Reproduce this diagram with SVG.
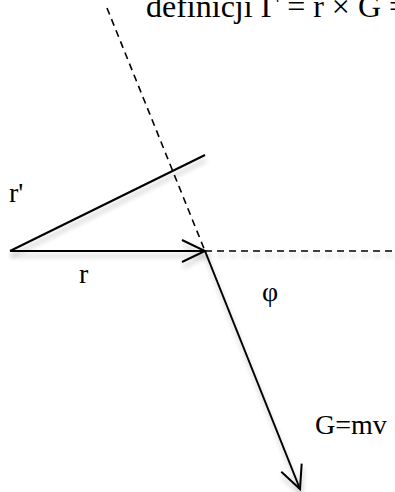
<svg xmlns="http://www.w3.org/2000/svg" width="395" height="492" viewBox="0 0 395 492">
<defs>
<filter id="sh" filterUnits="userSpaceOnUse" x="0" y="0" width="395" height="492">
<feGaussianBlur in="SourceAlpha" stdDeviation="2.5"/>
<feOffset dx="1" dy="5" result="b"/>
<feComponentTransfer><feFuncA type="linear" slope="0.25"/></feComponentTransfer>
<feMerge><feMergeNode/><feMergeNode in="SourceGraphic"/></feMerge>
</filter>
<marker id="ah" markerWidth="30" markerHeight="30" refX="24" refY="12" orient="auto" markerUnits="userSpaceOnUse" viewBox="0 0 30 24">
<path d="M1,1 L24,12 L1,23" fill="none" stroke="#000" stroke-width="2"/>
</marker>
</defs>
<style>
.l{stroke:#000;stroke-width:2;fill:none}
.d{stroke:#000;stroke-width:1.6;fill:none;stroke-dasharray:7,5}
text{font-family:"Liberation Serif","DejaVu Serif",serif;font-size:28px;fill:#000}
.t{font-size:32px}
</style>
<rect width="395" height="492" fill="#fff"/>
<text class="t" x="146" y="17">definicji Γ = r × G =</text>
<g id="connectors">
<line class="d" x1="107" y1="8" x2="205" y2="251"/>
<line class="d" x1="205" y1="251" x2="395" y2="251" filter="url(#sh)"/>
<line class="l" x1="10" y1="251" x2="205" y2="155" filter="url(#sh)"/>
<line class="l" x1="10" y1="251" x2="205" y2="251" marker-end="url(#ah)" filter="url(#sh)"/>
<line class="l" x1="205" y1="251" x2="300" y2="489" marker-end="url(#ah)" filter="url(#sh)"/>
</g>
<g id="labels">
<text x="9" y="202">r'</text>
<text x="79" y="283">r</text>
<text x="262" y="301">φ</text>
<text x="315" y="434">G=mv</text>
</g>
</svg>
